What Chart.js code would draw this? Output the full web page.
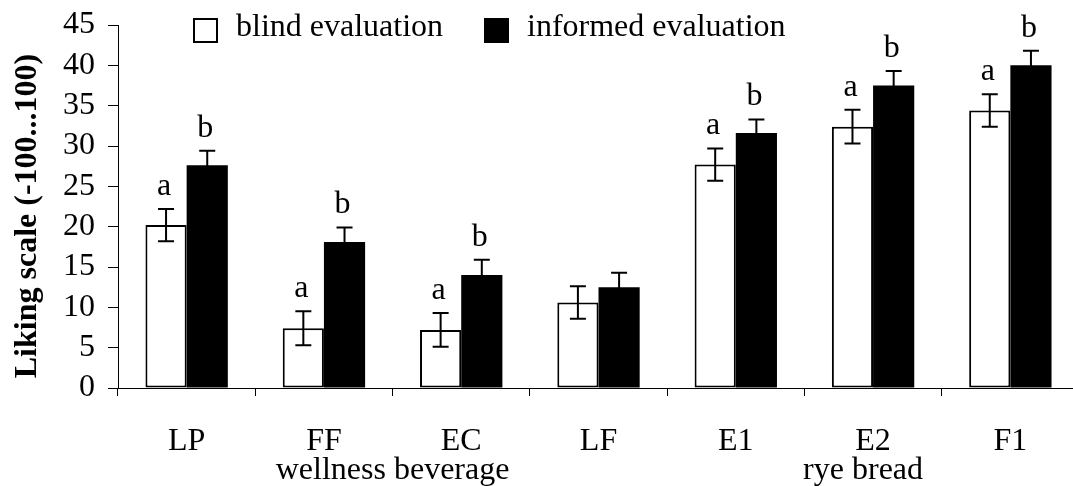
<!DOCTYPE html>
<html>
<head>
<meta charset="utf-8">
<script src="https://cdn.jsdelivr.net/npm/chart.js@4"></script>
<style>
  html, body { margin: 0; padding: 0; background: #fff; overflow: hidden; }
  #wrap { width: 1082px; height: 486px; }
</style>
</head>
<body>
<div id="wrap"><canvas id="likingChart"></canvas></div>
<script>
// values
const categories = ["LP", "FF", "EC", "LF", "E1", "E2", "F1"];
const blindValues = [20.2, 7.4, 7.2, 10.6, 27.7, 32.4, 34.4];
const blindErrors = [2.0, 2.1, 2.1, 2.0, 2.0, 2.1, 2.0];
const informedValues = [27.6, 18.1, 14.0, 12.5, 31.6, 37.5, 40.0];
const informedErrors = [1.8, 1.8, 1.9, 1.8, 1.7, 1.8, 1.8];
const blindLetters = ["a", "a", "a", "", "a", "a", "a"];
const informedLetters = ["b", "b", "b", "", "b", "b", "b"];
const groupLabels = ["wellness beverage", "rye bread"];
const groupStart = [0, 4];
const groupEnd = [3, 6];
const yMin = 0, yMax = 45, yStep = 5;

const serif = "'Liberation Serif', 'Times New Roman', serif";

// error bars + a/b letters on top of the bars
const errorBars = {
  id: "errorBars",
  afterDatasetsDraw(chart) {
    const ctx = chart.ctx;
    const y = chart.scales.y;
    const errs = [blindErrors, informedErrors];
    const letters = [blindLetters, informedLetters];
    ctx.save();
    ctx.strokeStyle = "#000";
    ctx.lineWidth = 2;
    ctx.fillStyle = "#000";
    ctx.font = "32px " + serif;
    ctx.textAlign = "center";
    ctx.textBaseline = "alphabetic";
    chart.data.datasets.forEach((ds, i) => {
      chart.getDatasetMeta(i).data.forEach((bar, j) => {
        const v = ds.data[j];
        const top = y.getPixelForValue(v + errs[i][j]);
        const bot = y.getPixelForValue(v - errs[i][j]);
        ctx.beginPath();
        ctx.moveTo(bar.x, top); ctx.lineTo(bar.x, bot);
        ctx.moveTo(bar.x - 8, top); ctx.lineTo(bar.x + 8, top);
        ctx.moveTo(bar.x - 8, bot); ctx.lineTo(bar.x + 8, bot);
        ctx.stroke();
        if (letters[i][j]) ctx.fillText(letters[i][j], bar.x - 2, top - 14);
      });
    });
    ctx.restore();
  }
};

// legend, y title and group names under the categories
const extraText = {
  id: "extraText",
  afterDraw(chart) {
    const ctx = chart.ctx;
    const x = chart.scales.x;
    ctx.save();
    ctx.fillStyle = "#000";
    ctx.strokeStyle = "#000";
    ctx.lineWidth = 2;
    ctx.font = "32px " + serif;
    ctx.textBaseline = "alphabetic";
    ctx.textAlign = "left";

    // legend
    const legendX = [194, 485];
    chart.data.datasets.forEach((ds, i) => {
      ctx.fillStyle = ds.backgroundColor;
      ctx.fillRect(legendX[i], 19, 23, 23);
      ctx.strokeRect(legendX[i], 19, 23, 23);
      ctx.fillStyle = "#000";
      ctx.fillText(ds.label, legendX[i] + 42, 36);
    });

    // group labels
    ctx.textAlign = "center";
    groupLabels.forEach((g, k) => {
      const cx = (x.getPixelForValue(groupStart[k]) + x.getPixelForValue(groupEnd[k])) / 2;
      ctx.fillText(g, cx - (k === 1 ? 10 : 0), 479);
    });

    // y axis title
    ctx.font = "bold 32px " + serif;
    ctx.translate(36, 216);
    ctx.rotate(-Math.PI / 2);
    ctx.fillText("Liking scale (-100...100)", 0, 0);
    ctx.restore();
  }
};

const ctx = document.getElementById("likingChart").getContext("2d");
const chart = new Chart(ctx, {
  type: "bar",
  data: {
    labels: categories,
    datasets: [
      {
        label: "blind evaluation",
        data: blindValues,
        backgroundColor: "#ffffff",
        borderColor: "#000000",
        borderWidth: 2,
        borderSkipped: false,
      },
      {
        label: "informed evaluation",
        data: informedValues,
        backgroundColor: "#000000",
        borderColor: "#000000",
        borderWidth: 0,
      },
    ],
  },
  options: {
    responsive: true,
    maintainAspectRatio: false,
    animation: false,
    events: [],
    categoryPercentage: 0.6,
    barPercentage: 1.0,
    layout: { padding: { top: 25, right: 3, left: 0, bottom: 0 } },
    plugins: { legend: { display: false }, tooltip: { enabled: false } },
    scales: {
      x: {
        grid: { drawOnChartArea: false, drawTicks: true, tickLength: 8, color: "#000", offset: true },
        border: { display: true, color: "#000", width: 1 },
        ticks: { color: "#000", font: { family: serif, size: 32 }, padding: 26, maxRotation: 0 },
        afterFit(scale) { scale.height = 98; },
      },
      y: {
        min: yMin,
        max: yMax,
        grid: { drawOnChartArea: false, drawTicks: true, tickLength: 10, color: "#000" },
        border: { display: true, color: "#000", width: 1 },
        ticks: { stepSize: yStep, autoSkip: false, color: "#000", font: { family: serif, size: 32, lineHeight: 1 }, padding: 13 },
        afterFit(scale) {
          scale.width = 118;
          scale.paddingTop = 0;
          scale.paddingBottom = 0;
        },
      },
    },
  },
  plugins: [errorBars, extraText],
});
</script>
</body>
</html>
